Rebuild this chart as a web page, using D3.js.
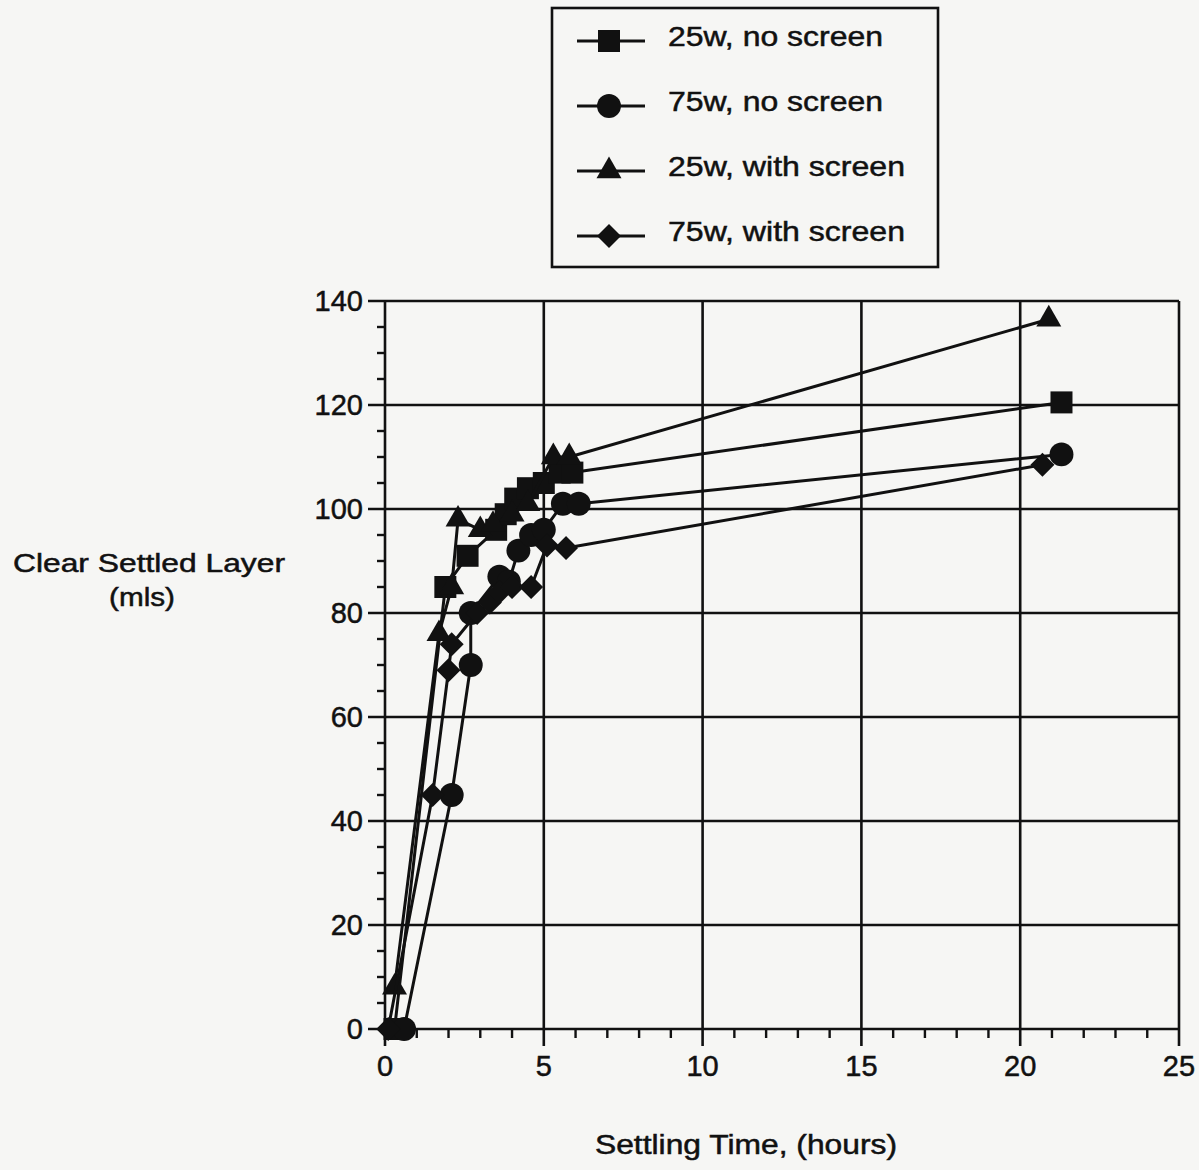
<!DOCTYPE html>
<html>
<head>
<meta charset="utf-8">
<script src="https://cdn.jsdelivr.net/npm/d3@7"></script>
<style>
  html, body { margin: 0; padding: 0; background: #f6f6f4; }
  svg { display: block; }
  text { font-family: "Liberation Sans", Arial, Helvetica, sans-serif; fill: #111; stroke: #111; stroke-width: 0.5px; }
</style>
</head>
<body>
<svg id="chart" width="1199" height="1170"></svg>
<script>
// ---- Data ----
const seriesNames = ["25w, no screen", "75w, no screen", "25w, with screen", "75w, with screen"];
const seriesSymbols = ["square", "circle", "triangle", "diamond"];

const sq25NoScreen = [[0.3,0],[1.9,85],[2.6,91],[3.5,96],[3.8,99],[4.1,102],[4.5,104],[5.0,105],[5.5,107],[5.9,107],[21.3,120.5]];
const ci75NoScreen = [[0.6,0],[2.1,45],[2.7,70],[2.7,80],[3.6,87],[3.9,86],[4.2,92],[4.6,95],[5.0,96],[5.6,101],[6.1,101],[21.3,110.5]];
const tr25WithScreen = [[0.3,8],[1.7,76],[2.1,85],[2.3,98],[3.0,96],[3.4,97],[4.0,99],[4.5,101],[5.3,110],[5.8,110],[20.9,136.5]];
const di75WithScreen = [[0.1,0],[1.5,45],[2.0,69],[2.1,74],[2.9,80],[3.3,82],[3.6,84],[4.0,85],[4.6,85],[5.1,93],[5.7,92.5],[20.7,108.5]];

const xMajorTicks = [0, 5, 10, 15, 20, 25];
const yMajorTicks = [0, 20, 40, 60, 80, 100, 120, 140];
const xTitle = "Settling Time, (hours)";
const yTitleLines = ["Clear Settled Layer", "(mls)"];

const allSeries = [sq25NoScreen, ci75NoScreen, tr25WithScreen, di75WithScreen];

// ---- Layout ----
const svg = d3.select("#chart");
const X0 = 385, X1 = 1179, Y0 = 1029, Y1 = 301;
const x = d3.scaleLinear().domain([0, 25]).range([X0, X1]);
const y = d3.scaleLinear().domain([0, 140]).range([Y0, Y1]);
const ink = "#111";

function symbolPath(kind) {
  if (kind === "square") return d3.symbol(d3.symbolSquare, 484)();
  if (kind === "circle") return d3.symbol(d3.symbolCircle, 450)();
  if (kind === "triangle") return d3.symbol(d3.symbolTriangle, 270)();
  const r = 12;
  return `M0,${-r}L${r},0L0,${r}L${-r},0Z`;
}

// ---- Grid ----
const grid = svg.append("g");
grid.selectAll("line.h").data(yMajorTicks).join("line")
  .attr("x1", X0 - 17).attr("x2", X1)
  .attr("y1", d => y(d)).attr("y2", d => y(d))
  .attr("stroke", ink).attr("stroke-width", 2.6);
grid.selectAll("line.v").data(xMajorTicks).join("line")
  .attr("x1", d => x(d)).attr("x2", d => x(d))
  .attr("y1", Y1).attr("y2", Y0 + 17)
  .attr("stroke", ink).attr("stroke-width", 2.6);

const yMinor = d3.range(0, 141, 5).filter(v => v % 20 !== 0);
grid.selectAll("line.ym").data(yMinor).join("line")
  .attr("x1", X0 - 8).attr("x2", X0)
  .attr("y1", d => y(d)).attr("y2", d => y(d))
  .attr("stroke", ink).attr("stroke-width", 2.4);
const xMinor = d3.range(0, 26, 1).filter(v => v % 5 !== 0);
grid.selectAll("line.xm").data(xMinor).join("line")
  .attr("x1", d => x(d)).attr("x2", d => x(d))
  .attr("y1", Y0).attr("y2", Y0 + 9)
  .attr("stroke", ink).attr("stroke-width", 2.4);

// tick labels
svg.append("g").selectAll("text").data(yMajorTicks).join("text")
  .attr("x", X0 - 22).attr("y", d => y(d) + 10)
  .attr("text-anchor", "end").attr("font-size", 29)
  .text(d => d);
svg.append("g").selectAll("text").data(xMajorTicks).join("text")
  .attr("x", d => x(d)).attr("y", Y0 + 47)
  .attr("text-anchor", "middle").attr("font-size", 29)
  .text(d => d);

// axis titles
svg.append("text").attr("x", 746).attr("y", 1154)
  .attr("text-anchor", "middle").attr("font-size", 27)
  .attr("textLength", 302).attr("lengthAdjust", "spacingAndGlyphs")
  .text(xTitle);
svg.append("text").attr("x", 149).attr("y", 572)
  .attr("text-anchor", "middle").attr("font-size", 26)
  .attr("textLength", 272).attr("lengthAdjust", "spacingAndGlyphs")
  .text(yTitleLines[0]);
svg.append("text").attr("x", 142).attr("y", 606)
  .attr("text-anchor", "middle").attr("font-size", 26)
  .attr("textLength", 66).attr("lengthAdjust", "spacingAndGlyphs")
  .text(yTitleLines[1]);

// ---- Series ----
const line = d3.line().x(d => x(d[0])).y(d => y(d[1]));
allSeries.forEach((data, i) => {
  const g = svg.append("g");
  g.append("path").attr("d", line(data))
    .attr("fill", "none").attr("stroke", ink).attr("stroke-width", 3)
    .attr("stroke-linejoin", "round");
  g.selectAll("path.m").data(data).join("path")
    .attr("class", "m")
    .attr("d", symbolPath(seriesSymbols[i]))
    .attr("transform", d => `translate(${x(d[0])},${y(d[1])})`)
    .attr("fill", ink);
});

// ---- Legend ----
const leg = svg.append("g");
leg.append("rect").attr("x", 552).attr("y", 8).attr("width", 386).attr("height", 259)
  .attr("fill", "none").attr("stroke", ink).attr("stroke-width", 2.6);
const legY = [41, 106, 171, 236];
const legW = [215, 215, 237, 237];
seriesNames.forEach((name, i) => {
  const cy = legY[i];
  leg.append("line").attr("x1", 577).attr("x2", 645).attr("y1", cy).attr("y2", cy)
    .attr("stroke", ink).attr("stroke-width", 2.8);
  leg.append("path").attr("d", symbolPath(seriesSymbols[i]))
    .attr("transform", `translate(609,${cy})`).attr("fill", ink);
  leg.append("text").attr("x", 668).attr("y", cy + 5)
    .attr("font-size", 28)
    .attr("textLength", legW[i]).attr("lengthAdjust", "spacingAndGlyphs")
    .text(name);
});
</script>
</body>
</html>
